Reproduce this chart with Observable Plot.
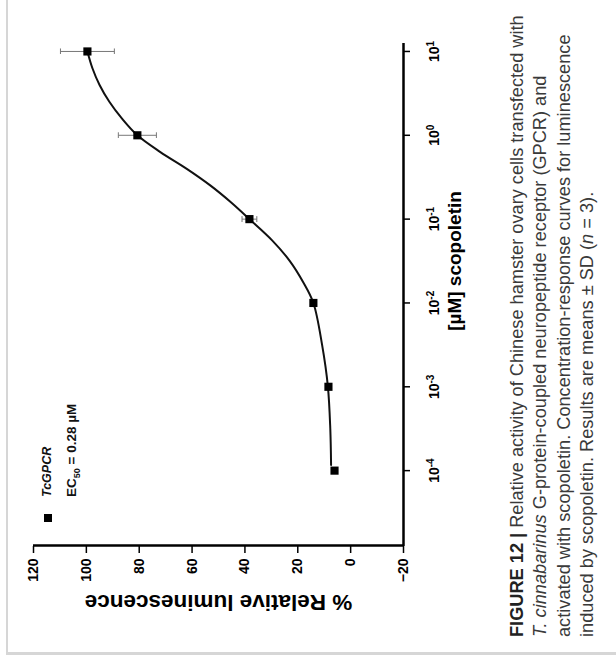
<!DOCTYPE html>
<html><head><meta charset="utf-8">
<script src="https://cdn.jsdelivr.net/npm/d3@7"></script>
<script src="https://cdn.jsdelivr.net/npm/@observablehq/plot@0.6"></script>
<style>
html,body{margin:0;padding:0;background:#fff;}
body{width:616px;height:666px;position:relative;overflow:hidden;font-family:"Liberation Sans",Arial,Helvetica,sans-serif;}
#frame{position:absolute;left:6px;top:-5px;width:620px;height:657px;border-left:2px solid #d6d6d6;border-bottom:3px solid #d6d6d6;}
#rot{position:absolute;left:0;top:0;width:666px;height:616px;transform-origin:0 0;transform:translate(0,666px) rotate(-90deg);}
#chart{position:absolute;left:0;top:0;}
.leg{position:absolute;font-weight:bold;font-size:13.5px;line-height:16px;color:#111;white-space:nowrap;}
#legsq{position:absolute;left:144px;top:44px;width:8px;height:8px;background:#000;}
#caption{position:absolute;left:29px;top:506px;font-size:18.2px;line-height:23.3px;color:#3a3a3a;white-space:nowrap;}
#caption b{color:#222;}
</style></head>
<body>
<div id="frame"></div>
<div id="rot">
  <div id="chart"></div>
  <div id="legsq"></div>
  <div class="leg" style="left:169px;top:39px;font-style:italic;font-size:12.5px;">TcGPCR</div>
  <div class="leg" style="left:169px;top:64px;">EC<sub style="font-size:9px;">50</sub> = 0.28 µM</div>
  <div id="caption"><b>FIGURE 12 |</b> Relative activity of Chinese hamster ovary cells transfected with<br><i>T. cinnabarinus</i> G-protein-coupled neuropeptide receptor (GPCR) and<br>activated with scopoletin. Concentration-response curves for luminescence<br>induced by scopoletin. Results are means ± SD (<i>n</i> = 3).</div>
</div>
<script>
// measured data (concentration in µM, % relative luminescence, SD)
const concentrations = [0.0001, 0.001, 0.01, 0.1, 1, 10];
const responses = [6.1, 8.4, 14.1, 38.3, 80.7, 99.6];
const sds = [0.5, 0.8, 1.0, 2.8, 7.2, 10.2];
// fitted curve
const curveX = [0.000117, 0.000316, 0.001, 0.00316, 0.01, 0.0178, 0.0316, 0.0562, 0.1, 0.158, 0.251, 0.398, 0.631, 1, 1.58, 2.51, 3.98, 6.31, 10];
const curveY = [7.4, 7.7, 8.6, 10.8, 14.1, 18.0, 23.0, 29.8, 38.3, 45.2, 53.0, 62.0, 72.0, 80.7, 86.5, 91.3, 95.0, 97.7, 99.6];
const xTicks = [0.0001, 0.001, 0.01, 0.1, 1, 10];
const xTickLabels = ["10^-4", "10^-3", "10^-2", "10^-1", "10^0", "10^1"];
const xLimits = [1.279e-5, 12.79];
const yTicks = [-20, 0, 20, 40, 60, 80, 100, 120];
const yLimits = [-20, 120];
const xTitle = "[µM] scopoletin";
const yTitle = "% Relative luminescence";

const points = concentrations.map((c, i) => ({c, r: responses[i], sd: sds[i]}));
const fit = curveX.map((c, i) => ({c, r: curveY[i]}));

const plot = Plot.plot({
  width: 666, height: 490,
  marginLeft: 120, marginRight: 43, marginTop: 33, marginBottom: 87,
  style: {fontFamily: '"Liberation Sans", Arial, sans-serif', fontWeight: "bold", color: "#000", background: "transparent"},
  x: {type: "log", domain: xLimits},
  y: {domain: yLimits},
  marks: [
    Plot.axisX({ticks: xTicks, tickFormat: d => xTickLabels[xTicks.indexOf(d)], tickSize: 7, tickPadding: 19, fontSize: 14, label: null, strokeWidth: 1.5}),
    Plot.axisY({ticks: yTicks, tickSize: 7, tickPadding: 6, fontSize: 14, label: null, strokeWidth: 1.5}),
    Plot.ruleX([xLimits[0]], {strokeWidth: 2.5}),
    Plot.ruleY([yLimits[0]], {strokeWidth: 2.5}),
    Plot.line(fit, {x: "c", y: "r", curve: "catmull-rom", stroke: "#111", strokeWidth: 2}),
    Plot.link(points, {x1: "c", x2: "c", y1: d => d.r - d.sd, y2: d => d.r + d.sd, stroke: "#777", strokeWidth: 1, markerStart: "tick", markerEnd: "tick"}),
    Plot.dot(points, {x: "c", y: "r", symbol: "square", r: 4.6, fill: "#000", stroke: "none"}),
    Plot.text([yTitle], {text: d => d, frameAnchor: "left", textAnchor: "middle", rotate: -90, dx: -57, fontSize: 22.5, fontWeight: "bold"}),
    Plot.text([xTitle], {text: d => d, frameAnchor: "bottom", textAnchor: "middle", dx: 33, dy: 57, fontSize: 19, fontWeight: "bold"})
  ]
});
document.getElementById("chart").appendChild(plot);
const ns = "http://www.w3.org/2000/svg";
plot.querySelectorAll('g[aria-label="x-axis tick label"] text').forEach(t => {
  const s = t.textContent;
  if (!s.includes("^")) return;
  const [b, e] = s.split("^");
  t.textContent = "";
  const t1 = document.createElementNS(ns, "tspan"); t1.textContent = b;
  const t2 = document.createElementNS(ns, "tspan"); t2.textContent = e.replace("-", "\u2011");
  t2.setAttribute("dy", "-0.55em"); t2.setAttribute("font-size", "10");
  t.append(t1, t2);
});
</script>
</body></html>
